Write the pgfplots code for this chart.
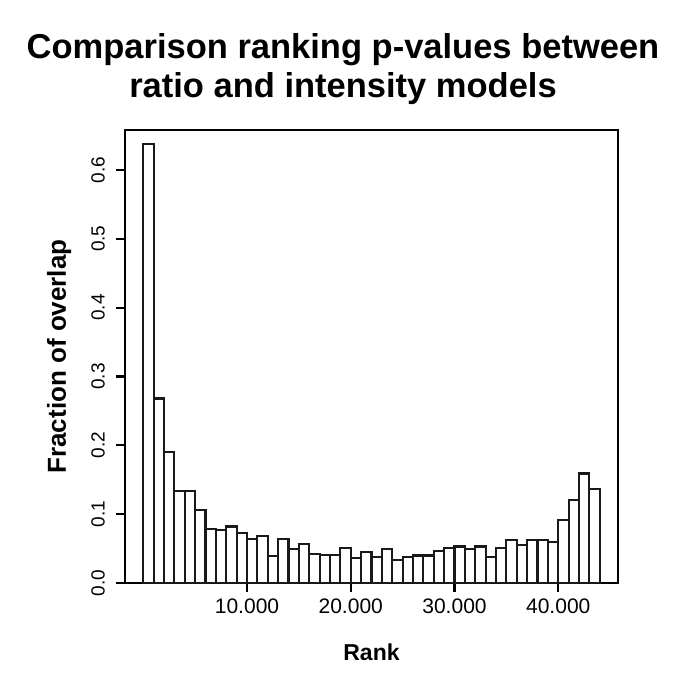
\documentclass[border=0pt]{standalone}
\usepackage{pgfplots}
\pgfplotsset{compat=1.18}
\usepackage{fontspec}
\setmainfont{Liberation Sans}
\pgfplotstableread{
x y
500 0.638
1500 0.268
2500 0.190
3500 0.134
4500 0.133
5500 0.106
6500 0.078
7500 0.077
8500 0.082
9500 0.073
10500 0.064
11500 0.068
12500 0.039
13500 0.064
14500 0.049
15500 0.056
16500 0.042
17500 0.041
18500 0.041
19500 0.051
20500 0.036
21500 0.045
22500 0.038
23500 0.050
24500 0.034
25500 0.038
26500 0.040
27500 0.040
28500 0.046
29500 0.051
30500 0.053
31500 0.049
32500 0.053
33500 0.038
34500 0.051
35500 0.062
36500 0.055
37500 0.063
38500 0.062
39500 0.059
40500 0.091
41500 0.120
42500 0.159
43500 0.136
}\ranks
\begin{document}
\begin{tikzpicture}
\path[use as bounding box] (-125bp,-103bp) rectangle (560bp,583bp);
\begin{axis}[
  at={(0,0)}, anchor=south west,
  scale only axis, width=493bp, height=453bp,
  xmin=-1760, xmax=45760, ymin=0, ymax=0.658,
  axis line style={line width=2.1bp},
  every tick/.style={line width=2.1bp, black},
  tick align=outside, major tick length=9bp,
  xtick pos=bottom, ytick pos=left,
  scaled x ticks=false, scaled y ticks=false,
  xtick={10000,20000,30000,40000},
  xticklabels={10.000,20.000,30.000,40.000},
  ytick={0,0.1,0.2,0.3,0.4,0.5,0.6},
  yticklabels={0.0,0.1,0.2,0.3,0.4,0.5,0.6},
  /pgf/number format/assume math mode=true,
  xticklabel style={font=\fontsize{21bp}{24bp}\selectfont, inner sep=2bp, yshift=-5bp},
  yticklabel style={font=\fontsize{19bp}{22bp}\selectfont, rotate=90, anchor=south, inner xsep=0bp, inner ysep=11bp},
  xlabel={\textbf{Rank}},
  xlabel style={font=\fontsize{23bp}{26bp}\selectfont, at={(axis description cs:0.5,0)}, anchor=base, yshift=-77bp},
  clip=false,
]
\addplot[ybar, bar width=1000, bar shift=0pt, fill=white, draw=black!90, line width=2.1bp] table[x=x, y=y] {\ranks};
\end{axis}
\node[rotate=90, anchor=base, font=\fontsize{26bp}{29bp}\selectfont\bfseries] at (-59bp,226.5bp) {Fraction of overlap};
\node[anchor=base, font=\fontsize{34.5bp}{38bp}\selectfont\bfseries] at (218bp,524.5bp) {Comparison ranking p-values between};
\node[anchor=base, font=\fontsize{34.5bp}{38bp}\selectfont\bfseries] at (218bp,485bp) {ratio and intensity models};
\end{tikzpicture}
\end{document}
